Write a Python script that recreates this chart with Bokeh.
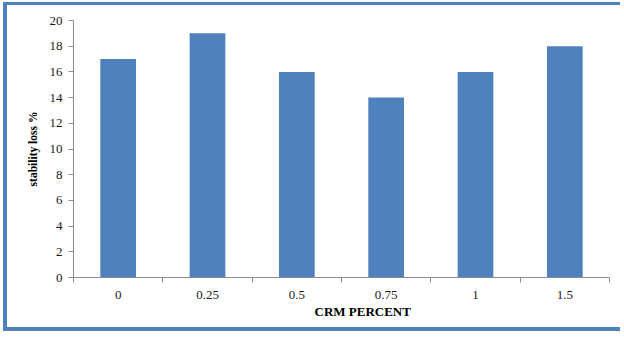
from bokeh.plotting import figure
from bokeh.models import FixedTicker, Range1d, Title, ColumnDataSource
from bokeh.embed import file_html
from bokeh.resources import INLINE

# CRM content (%) and the measured stability loss for each mix
crm_percent = ["0", "0.25", "0.5", "0.75", "1", "1.5"]
stability_loss = [17, 19, 16, 14, 16, 18]
y_ticks = [0, 2, 4, 6, 8, 10, 12, 14, 16, 18, 20]

BLUE = "#4F81BD"
AXIS_GREY = "#8C8C8C"
FONT = "Liberation Serif"

n = len(crm_percent)
centers = [i + 0.5 for i in range(n)]
bounds = [float(i) for i in range(n + 1)]

src = ColumnDataSource(dict(x=centers, top=stability_loss))

p = figure(
    width=617, height=329,
    x_range=Range1d(0, n), y_range=Range1d(0, 20),
    output_backend="svg", toolbar_location=None,
    min_border_left=66, min_border_right=15,
    min_border_top=15, min_border_bottom=57,
)
p.styles = {
    "margin-left": "3px",
    "margin-top": "2px",
    "border-left": f"4px solid {BLUE}",
    "border-top": f"3px solid {BLUE}",
    "border-bottom": f"4px solid {BLUE}",
}

p.vbar(x="x", top="top", width=0.4, source=src, fill_color=BLUE, line_color=None)

p.outline_line_color = None
p.xgrid.grid_line_color = None
p.ygrid.grid_line_color = None

# x axis: category names at the centres, tick marks at the boundaries
xa = p.xaxis[0]
xa.ticker = FixedTicker(ticks=centers, minor_ticks=bounds)
xa.major_label_overrides = {c: lab for c, lab in zip(centers, crm_percent)}
xa.major_tick_out = 0
xa.major_tick_in = 0
xa.minor_tick_out = 5
xa.minor_tick_in = 0
xa.minor_tick_line_color = AXIS_GREY
xa.axis_line_color = AXIS_GREY
xa.major_label_text_font = FONT
xa.major_label_text_font_size = "13px"
xa.major_label_text_color = "#1a1a1a"
xa.major_label_standoff = 8

ya = p.yaxis[0]
ya.ticker = FixedTicker(ticks=y_ticks)
ya.minor_tick_line_color = None
ya.major_tick_out = 5
ya.major_tick_in = 0
ya.major_tick_line_color = AXIS_GREY
ya.axis_line_color = AXIS_GREY
ya.major_label_text_font = FONT
ya.major_label_text_font_size = "13px"
ya.major_label_text_color = "#1a1a1a"
ya.major_label_standoff = 6
ya.axis_label = "stability loss %"
ya.axis_label_text_font = FONT
ya.axis_label_text_font_size = "11.5px"
ya.axis_label_text_font_style = "bold"
ya.axis_label_text_color = "#000000"
ya.axis_label_standoff = 8

# x axis title, set a little right of the frame centre
p.add_layout(Title(
    text="CRM PERCENT", align="left", offset=241, standoff=0,
    text_font=FONT, text_font_size="13px",
    text_font_style="bold", text_color="#000000",
), "below")

open("out.html", "w").write(file_html(p, INLINE))
